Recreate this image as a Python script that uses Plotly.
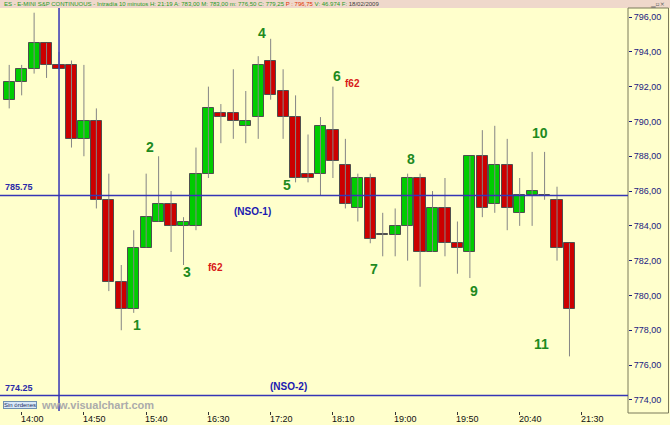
import plotly.graph_objects as go

# ---- data (10-minute bars, ES E-mini S&P, 18/02/2009) ----
opens = [791.25, 792.25, 793.0, 794.5, 793.25, 793.25, 789.0, 790.0, 785.5, 780.75,
         779.25, 782.75, 784.25, 785.25, 784.0, 784.0, 787.0, 790.5, 790.5, 789.75,
         790.25, 793.5, 791.75, 790.25, 787.0, 787.0, 789.5, 787.5, 785.0, 786.75,
         783.5, 783.5, 784.0, 786.75, 782.5, 785.0, 783.0, 782.5, 788.0, 785.25,
         787.5, 784.75, 785.75, 785.75, 785.5, 783.0]
closes = [792.25, 793.0, 794.5, 793.25, 793.0, 789.0, 790.0, 785.5, 780.75, 779.25,
          782.75, 784.5, 785.25, 784.0, 784.25, 787.0, 790.75, 790.25, 790.0, 790.0,
          793.25, 791.5, 790.25, 786.75, 786.75, 789.75, 787.75, 785.25, 786.75, 783.25,
          783.5, 784.0, 786.75, 782.5, 785.0, 783.0, 782.75, 788.0, 785.0, 787.5,
          785.0, 785.75, 786.0, 785.75, 782.75, 779.25]
highs = [793.25, 793.25, 796.25, 794.5, 794.0, 793.5, 793.25, 790.75, 787.0, 781.75,
         783.75, 787.0, 788.0, 786.0, 784.5, 788.5, 792.0, 791.0, 793.0, 791.75,
         793.75, 794.75, 793.0, 791.5, 789.25, 790.25, 792.0, 789.0, 787.0, 787.0,
         784.75, 785.0, 787.0, 787.0, 786.0, 786.75, 784.25, 788.0, 789.5, 789.75,
         789.0, 786.75, 788.25, 788.25, 786.25, 783.0]
lows = [790.75, 791.5, 792.75, 792.5, 793.0, 788.5, 788.0, 785.0, 780.25, 778.0,
        779.0, 782.75, 784.25, 782.5, 781.75, 783.75, 786.75, 788.75, 789.0, 788.75,
        789.0, 791.25, 789.0, 786.5, 786.5, 785.75, 786.75, 785.0, 784.25, 783.0,
        782.25, 782.25, 782.0, 780.5, 782.5, 782.25, 781.25, 781.0, 784.5, 784.75,
        783.75, 784.0, 784.0, 785.5, 782.0, 776.5]

tick_index = [1, 6, 11, 16, 21, 26, 31, 36, 41, 46]
tick_labels = ["14:00", "14:50", "15:40", "16:30", "17:20", "18:10", "19:00", "19:50", "20:40", "21:30"]
price_ticks = [774, 776, 778, 780, 782, 784, 786, 788, 790, 792, 794, 796]

level_1 = 785.75
level_2 = 774.25
marker_bar = 4  # vertical cursor line

wave_labels = ["1", "2", "3", "4", "5", "6", "7", "8", "9", "10", "11"]
wave_x = [10.27, 11.31, 14.28, 20.3, 22.31, 26.33, 29.3, 32.27, 37.33, 42.64, 42.72]
wave_y = [778.3, 788.53, 781.34, 795.08, 786.34, 792.61, 781.52, 787.84, 780.25, 789.33, 777.21]

fib_x = [16.53, 27.61]
fib_y = [781.63, 792.21]

# ---- build ----
n = len(opens)
idx = list(range(n))
GREEN = "#00CC00"
RED = "#CC0000"
BLUE = "#3535B5"
NAVY = "#1A1A80"
BG = "#FFFFCC"
FONT = "Liberation Sans, Arial"

wx, wy = [], []
for i in idx:
    wx += [i, i, None]
    wy += [lows[i], highs[i], None]

base = [min(o, c) for o, c in zip(opens, closes)]
height = [max(abs(c - o), 0.04) for o, c in zip(opens, closes)]
colors = [GREEN if c > o else (RED if c < o else "#707070") for o, c in zip(opens, closes)]

fig = go.Figure()
fig.add_trace(go.Scatter(x=wx, y=wy, mode="lines", line=dict(color="#858585", width=1),
                         hoverinfo="skip", showlegend=False))
fig.add_trace(go.Bar(x=idx, y=height, base=base, width=0.9,
                     marker=dict(color=colors, line=dict(color="#4f4f4f", width=1)),
                     showlegend=False))

W, H = 670, 425
ml, mr, mt, mb = 0, 42, 8, 14
pw = W - ml - mr
ph = H - mt - mb
ybot = H - mb  # pixel row of plot bottom

shapes = [
    dict(type="rect", xref="paper", yref="paper", x0=0, x1=W / pw, y0=1, y1=1 + mt / ph,
         fillcolor="#EFD8CB", line=dict(width=0), layer="below"),
    dict(type="rect", xref="paper", yref="paper", x0=1, x1=1 + (mr - 1.5) / pw,
         y0=-2 / ph, y1=1, line=dict(color="#7a7a5a", width=1), layer="above"),
    dict(type="line", xref="paper", yref="y", x0=0, x1=1, y0=level_1, y1=level_1,
         line=dict(color=BLUE, width=1.5)),
    dict(type="line", xref="paper", yref="y", x0=0, x1=1, y0=level_2, y1=level_2,
         line=dict(color=BLUE, width=1.5)),
    dict(type="line", xref="x", yref="paper", x0=marker_bar, x1=marker_bar, y0=0, y1=1,
         line=dict(color=BLUE, width=1.5)),
]

ann = []
for t, x, y in zip(wave_labels, wave_x, wave_y):
    ann.append(dict(x=x, y=y, text="<b>" + t + "</b>", showarrow=False,
                    font=dict(family=FONT, size=14, color="#1E8A1E")))
for x, y in zip(fib_x, fib_y):
    ann.append(dict(x=x, y=y, text="<b>f62</b>", showarrow=False,
                    font=dict(family=FONT, size=10, color="#D81818")))
ann.append(dict(x=19.5, y=784.85, text="<b>(NSO-1)</b>", showarrow=False,
                font=dict(family=FONT, size=10, color="#1A1AB0")))
ann.append(dict(x=22.47, y=774.79, text="<b>(NSO-2)</b>", showarrow=False,
                font=dict(family=FONT, size=10, color="#1A1AB0")))
for lv in (level_1, level_2):
    ann.append(dict(xref="paper", x=3 / pw, xanchor="left", y=lv, yanchor="bottom", yshift=1,
                    text="<b>%.2f</b>" % lv, showarrow=False,
                    font=dict(family=FONT, size=9, color="#2A2AA8")))
# x tick labels (left-aligned on their tick, as in the original)
for tv, tl in zip(tick_index, tick_labels):
    ann.append(dict(xref="x", yref="paper", x=tv, xanchor="left", xshift=-2,
                    y=-(H - ybot) / ph, yanchor="bottom", text=tl, showarrow=False,
                    borderpad=0,
                    font=dict(family=FONT, size=9, color="#111111")))
# header text
hdr = ("ES - E-MINI S&P CONTINUOUS - Intradía 10 minutos H: 21:19 A: 783,00 M: 783,00 "
       "m: 776,50 C: 779,25 <span style='color:#E03000'>P : 796,75</span> V: 46.974 F: "
       "<span style='color:#404040'>18/02/2009</span>")
ann.append(dict(xref="paper", yref="paper", x=2 / pw, xanchor="left", y=1 + (mt / 2) / ph,
                yanchor="middle", text=hdr, showarrow=False,
                font=dict(family=FONT, size=6, color="#1E9A1E")))
ann.append(dict(xref="paper", yref="paper", x=(W - 3) / pw, xanchor="right", y=1 + (mt / 2) / ph,
                yanchor="middle", text="▁▫×", showarrow=False,
                font=dict(family="DejaVu Sans", size=6, color="#606060")))
# footer items
ann.append(dict(xref="paper", yref="paper", x=3 / pw, xanchor="left", y=-(404.5 - ybot) / ph,
                yanchor="middle", text="Sin órdenes", showarrow=False,
                bgcolor="#D8E8F8", bordercolor="#7090B0", borderwidth=1, borderpad=0,
                font=dict(family=FONT, size=6, color="#203060")))
ann.append(dict(xref="paper", yref="paper", x=39 / pw, xanchor="left", y=-(404.5 - ybot) / ph,
                yanchor="middle", text="<b>www.visualchart.com</b>", showarrow=False,
                font=dict(family=FONT, size=11, color="#ABABAB")))

fig.update_layout(
    width=W, height=H,
    margin=dict(l=ml, r=mr, t=mt, b=mb, pad=0),
    paper_bgcolor=BG, plot_bgcolor=BG,
    separators=",.",
    bargap=0,
    shapes=shapes, annotations=ann,
    xaxis=dict(range=[-0.74, 49.7], tickmode="array", tickvals=tick_index,
               showticklabels=False,
               ticks="outside", ticklen=3, tickcolor="#333333", showgrid=False, zeroline=False,
               showline=False, automargin=False),
    yaxis=dict(range=[773.36, 796.52], side="right", tickmode="array", tickvals=price_ticks,
               tickformat=".2f", ticks="outside", ticklen=3, tickcolor=NAVY, showgrid=False,
               zeroline=False, showline=False, automargin=False, ticklabelstandoff=0,
               tickfont=dict(family=FONT, size=9, color=NAVY)),
    showlegend=False,
)

fig.write_html("out.html", config={"displayModeBar": False},
               post_script="document.body.style.margin='0px';document.body.style.background='#FFFFCC';")
